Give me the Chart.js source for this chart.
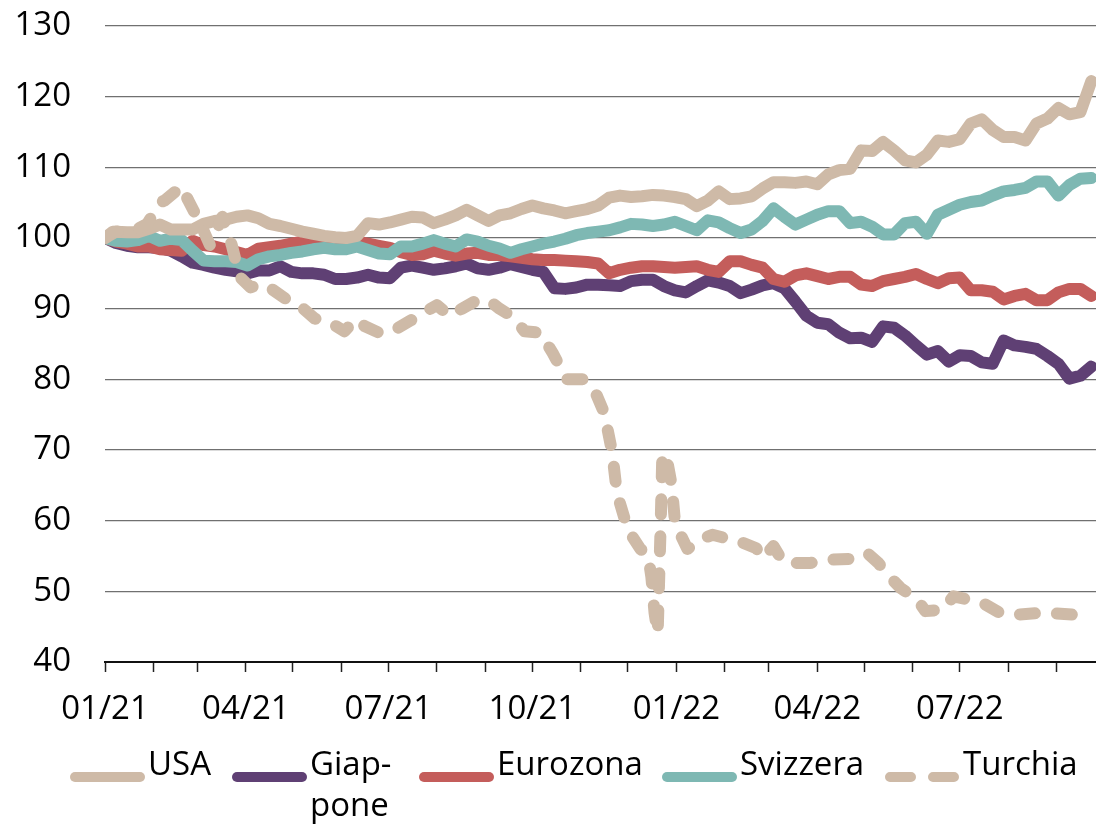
<!DOCTYPE html>
<html>
<head>
<meta charset="utf-8">
<script src="https://cdn.jsdelivr.net/npm/chart.js@4.4.0/dist/chart.umd.min.js"></script>
<style>
  html, body { margin: 0; padding: 0; background: #fff; }
  #wrap { position: relative; width: 1096px; height: 826px; }
</style>
</head>
<body>
<div id="wrap"><canvas id="chart"></canvas></div>
<script>
// === Dati (indice, 01/01/2021 = 100) ===
// giorni dal 01/01/2021, un punto a settimana
const weekDays = [];
for (let k = 0; k <= 90; k++) weekDays.push(k * 7);

const usa = [100, 100.9, 100.8, 100.8, 101.3, 101.9, 101.2, 101.2, 101.2, 102, 102.4, 102.6, 103, 103.2, 102.8, 102, 101.7, 101.3, 100.9, 100.6,
  100.3, 100.1, 100, 100.3, 102.1, 101.9, 102.2, 102.6, 103, 102.9, 102.1, 102.6, 103.2, 104, 103.2, 102.4, 103.2, 103.5, 104.1, 104.6,
  104.2, 103.9, 103.5, 103.8, 104.1, 104.6, 105.7, 106, 105.8, 105.9, 106.1, 106, 105.8, 105.5, 104.5, 105.3, 106.6, 105.5, 105.6, 105.9,
  107, 107.9, 107.9, 107.8, 108, 107.6, 109, 109.6, 109.8, 112.4, 112.3, 113.6, 112.4, 111, 110.7, 111.8, 113.8, 113.6, 114, 116.2,
  116.8, 115.3, 114.3, 114.3, 113.8, 116.2, 116.9, 118.4, 117.5, 117.8, 122.2];

const giappone = [100, 99.3, 98.9, 98.7, 98.7, 98.6, 98.2, 97.4, 96.5, 96.2, 95.8, 95.5, 95.3, 95, 95.4, 95.4, 96, 95.2, 95, 95,
  94.8, 94.2, 94.2, 94.4, 94.8, 94.4, 94.3, 95.8, 96.1, 95.8, 95.5, 95.7, 96, 96.4, 95.7, 95.5, 95.8, 96.3, 95.9, 95.5,
  95.2, 92.9, 92.8, 93, 93.4, 93.4, 93.3, 93.2, 93.9, 94.1, 94.1, 93.2, 92.6, 92.3, 93.2, 94, 93.7, 93.2, 92.2, 92.7,
  93.3, 93.6, 92.9, 91, 89, 88, 87.8, 86.6, 85.8, 85.9, 85.3, 87.5, 87.3, 86.2, 84.8, 83.5, 84, 82.5, 83.4, 83.3,
  82.4, 82.2, 85.5, 84.8, 84.6, 84.3, 83.3, 82.2, 80.1, 80.5, 81.8];

const eurozona = [100, 99.5, 99.2, 98.8, 98.8, 98.4, 98.3, 98.2, 99.6, 99, 98.8, 98.4, 98, 97.6, 98.5, 98.7, 98.9, 99.2, 99.5, 99.8,
  99.9, 100, 99.8, 99.5, 99.2, 98.9, 98.6, 98, 97.6, 97.7, 98.2, 97.8, 97.5, 97.8, 97.9, 97.6, 97.6, 97.4, 97.2, 97,
  96.9, 96.9, 96.8, 96.7, 96.6, 96.4, 95, 95.5, 95.8, 96, 96, 95.9, 95.8, 95.9, 96, 95.5, 95.2, 96.7, 96.7, 96.2,
  95.8, 94.2, 93.8, 94.7, 95, 94.6, 94.2, 94.5, 94.5, 93.4, 93.2, 93.9, 94.2, 94.5, 94.9, 94.2, 93.6, 94.3, 94.4, 92.6,
  92.6, 92.4, 91.3, 91.8, 92.1, 91.2, 91.2, 92.3, 92.8, 92.8, 91.8];

const svizzera = [100, 99.6, 99.5, 99.7, 100.3, 99.6, 99.9, 99.7, 98.2, 96.8, 96.7, 96.7, 96.6, 96.1, 97, 97.4, 97.6, 97.9, 98.1, 98.4,
  98.6, 98.4, 98.4, 98.8, 98.3, 97.8, 97.7, 98.8, 98.8, 99.2, 99.7, 99.2, 98.8, 99.8, 99.5, 98.9, 98.5, 97.9, 98.4, 98.8,
  99.2, 99.5, 99.9, 100.4, 100.7, 100.9, 101.1, 101.5, 102, 101.9, 101.7, 101.9, 102.3, 101.7, 101.1, 102.5, 102.2, 101.4, 100.7, 101.2,
  102.4, 104.2, 103, 101.9, 102.6, 103.3, 103.8, 103.8, 102.1, 102.3, 101.6, 100.5, 100.5, 102.1, 102.3, 100.6, 103.3, 104, 104.7, 105.1,
  105.3, 106, 106.6, 106.8, 107.1, 108, 108, 106, 107.5, 108.4, 108.5];

// Turchia: punti irregolari (crollo di dicembre 2021)
const turchiaDays = [0, 5, 14, 20, 27, 35, 38, 49, 53, 61, 67, 75, 81, 86, 93, 99, 105, 118, 125, 134,
  144, 153, 160, 166, 176, 185, 195, 204, 212, 220, 228, 236, 245, 252, 260, 268, 278, 286, 295, 305,
  312, 319, 324, 327, 334, 342, 347, 349, 351, 353, 355, 356, 359, 362, 364, 367, 372, 382, 388, 397,
  405, 416, 420, 427, 433, 442, 450, 465, 476, 487, 494, 501, 508, 519, 524, 535, 542, 552, 561, 572,
  582, 595, 605, 618, 630];
const turchia = [100, 100.9, 101, 101.2, 102, 105, 105.3, 107.3, 105.4, 102, 99, 103, 99, 94.5, 93, 93.5, 93, 91, 90.3, 88.6,
  88, 86.8, 88.5, 87.5, 86.5, 87, 88.3, 89.5, 90.5, 89, 90, 91, 91.2, 90, 88.9, 86.8, 86.6, 83.7, 80, 80,
  78.8, 75.2, 69.6, 63.9, 58.7, 56, 55, 52, 47, 44, 60, 69.5, 68.6, 65, 60, 58.3, 56, 57.5, 58, 57.5,
  57.1, 56.1, 54.7, 56.4, 54.2, 54, 54, 54.5, 54.6, 55.4, 54, 52.1, 50.5, 48.8, 47.2, 47.4, 49.3, 48.8, 48.3, 46.9,
  46.7, 46.9, 46.9, 46.7, 47.4];

const seriesNames = ['USA', 'Giappone', 'Eurozona', 'Svizzera', 'Turchia'];
const legendText = ['USA', 'Giap-\npone', 'Eurozona', 'Svizzera', 'Turchia'];

// inizio di ogni mese (giorni dal 01/01/2021) e etichette trimestrali
const monthDays = [0, 31, 59, 90, 120, 151, 181, 212, 243, 273, 304, 334, 365, 396, 424, 455, 485, 516, 546, 577, 608];
const monthLabels = ['01/21', '', '', '04/21', '', '', '07/21', '', '', '10/21', '', '', '01/22', '', '', '04/22', '', '', '07/22', '', ''];
const yTicks = [40, 50, 60, 70, 80, 90, 100, 110, 120, 130];

// === Stile ===
const BEIGE = '#cebaa7', VIOLA = '#5f4074', ROSSO = '#c45d5b', TEAL = '#7eb8b3';
const FONT = '"Open Sans", "Noto Sans", sans-serif';
const legendX = [70, 232, 419, 662, 885];

function toPoints(xs, ys) {
    return ys.map((y, i) => ({ x: xs[i], y: y }));
}

function lineDs(label, xs, ys, color, order, dash) {
    return {
        label: label,
        data: toPoints(xs, ys),
        borderColor: color,
        backgroundColor: color,
        borderWidth: 12,
        borderCapStyle: 'round',
        borderJoinStyle: 'round',
        borderDash: dash || [],
        pointRadius: 0,
        pointHoverRadius: 0,
        tension: 0,
        fill: false,
        order: order
    };
}

// === Legenda sotto il grafico ===
const bottomLegend = {
    id: 'bottomLegend',
    afterDraw(chart) {
        const ctx = chart.ctx;
        const y = 777;
        ctx.save();
        ctx.font = '33px ' + FONT;
        ctx.textBaseline = 'alphabetic';
        chart.data.datasets.forEach((ds, i) => {
            const x = legendX[i];
            ctx.strokeStyle = ds.borderColor;
            ctx.lineWidth = 10;
            ctx.lineCap = 'round';
            ctx.setLineDash(ds.borderDash.length ? [21, 22] : []);
            ctx.beginPath();
            ctx.moveTo(x + 5, y);
            ctx.lineTo(x + 70, y);
            ctx.stroke();
            ctx.setLineDash([]);
            ctx.fillStyle = '#000';
            legendText[i].split('\n').forEach((t, j) => {
                ctx.fillText(t, x + 78, 775 + j * 41);
            });
        });
        ctx.restore();
    }
};

const chart = new Chart(document.getElementById('chart'), {
    type: 'line',
    data: {
        datasets: [
            lineDs(seriesNames[0], weekDays, usa, BEIGE, 1),
            lineDs(seriesNames[1], weekDays, giappone, VIOLA, 4),
            lineDs(seriesNames[2], weekDays, eurozona, ROSSO, 3),
            lineDs(seriesNames[3], weekDays, svizzera, TEAL, 2),
            lineDs(seriesNames[4], turchiaDays, turchia, BEIGE, 0, [15, 22])
        ]
    },
    options: {
        responsive: true,
        maintainAspectRatio: false,
        animation: false,
        layout: { autoPadding: false, padding: { top: 26, right: 0, bottom: 100, left: 0 } },
        plugins: {
            legend: { display: false },
            tooltip: { enabled: false }
        },
        scales: {
            x: {
                type: 'linear',
                min: 0,
                max: 633,
                afterBuildTicks: scale => {
                    scale.ticks = monthDays.map(v => ({ value: v }));
                },
                afterFit: scale => { scale.height = 64; },
                ticks: {
                    autoSkip: false,
                    maxRotation: 0,
                    padding: 18,
                    color: '#000',
                    font: { family: FONT, size: 33 },
                    callback: (v, i) => monthLabels[i]
                },
                grid: {
                    drawOnChartArea: false,
                    drawTicks: true,
                    tickLength: 10,
                    tickWidth: 1.5,
                    tickColor: '#222'
                },
                border: { display: true, color: '#111', width: 2 }
            },
            y: {
                min: 40,
                max: 130,
                afterBuildTicks: scale => {
                    scale.ticks = yTicks.map(v => ({ value: v }));
                },
                afterFit: scale => { scale.width = 105; },
                ticks: {
                    padding: 0,
                    color: '#000',
                    font: { family: FONT, size: 33 }
                },
                grid: {
                    color: '#707070',
                    lineWidth: 1.3,
                    drawTicks: true,
                    tickLength: 34,
                    tickColor: 'rgba(0,0,0,0)'
                },
                border: { display: false }
            }
        }
    },
    plugins: [bottomLegend]
});
</script>
</body>
</html>
